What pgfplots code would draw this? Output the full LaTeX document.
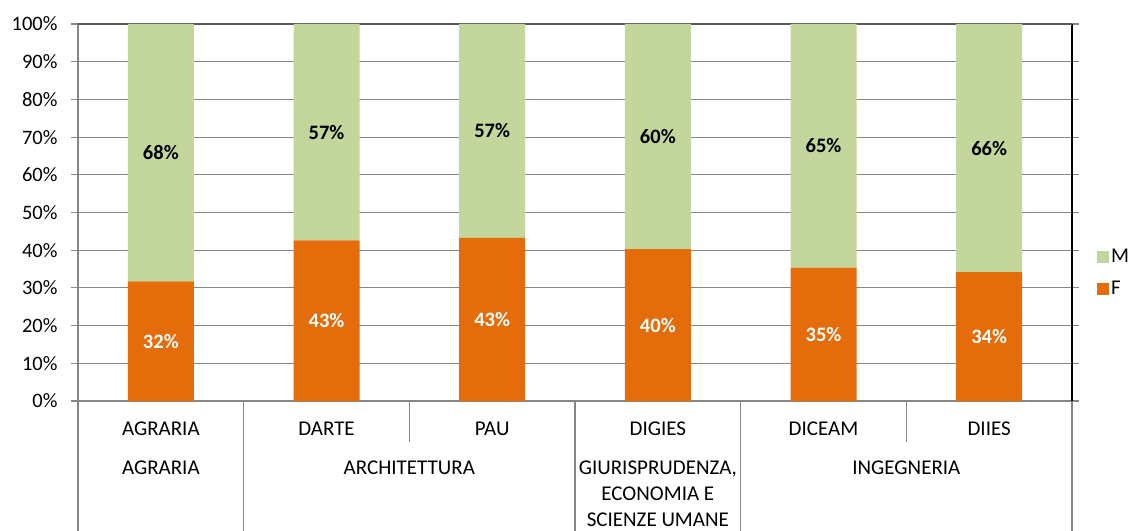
\documentclass[border=0pt]{standalone}
\usepackage{fontspec}
\setmainfont{Carlito}
\usepackage{pgfplots}
\pgfplotsset{compat=1.18}
\usepackage{pgfplotstable}
\definecolor{cM}{HTML}{C3D69B}
\definecolor{cF}{HTML}{E46C0A}
\definecolor{gridc}{HTML}{868686}
\definecolor{topc}{HTML}{595959}

\pgfplotstableread{
x F M
0 31.7 68.3
1 42.6 57.4
2 43.3 56.7
3 40.3 59.7
4 35.4 64.6
5 34.2 65.8
}\data

\pgfplotstableread{
x yF lF yM lM
0 15.85 32 65.85 68
1 21.30 43 71.30 57
2 21.65 43 71.65 57
3 20.15 40 70.15 60
4 17.70 35 67.70 65
5 17.10 34 67.10 66
}\labels

\begin{document}
\begin{tikzpicture}
\useasboundingbox (-78pt,-129pt) rectangle (1061pt,401pt);
\begin{axis}[
  scale only axis, width=994pt, height=377pt,
  xmin=-0.5, xmax=5.5, ymin=0, ymax=100,
  ybar stacked, bar width=66pt,
  xtick={0,...,5},
  xticklabels={AGRARIA,DARTE,PAU,DIGIES,DICEAM,DIIES},
  x tick style={draw=none},
  xticklabel style={font=\fontsize{21}{25}\selectfont, anchor=center, yshift=-21pt},
  ytick={0,10,...,100},
  yticklabel={\pgfmathprintnumber{\tick}\%},
  yticklabel style={font=\fontsize{20.5}{24}\selectfont, xshift=-10pt},
  ymajorgrids, grid style={gridc, line width=1.1pt},
  axis line style={gridc, line width=1.3pt},
  tick align=outside, major tick length=7pt,
  y tick style={gridc, line width=1.1pt},
  clip=false,
  reverse legend,
  legend style={draw=none, fill=none, at={(1,0.34)}, anchor=west, xshift=25pt,
    font=\fontsize{21}{24}\selectfont, row sep=13pt, inner sep=0pt,
    legend cell align=left},
  /pgf/number format/assume math mode=true,
]
\addplot[fill=cF, draw=none, legend image code/.code={\fill[cF] (0pt,-6pt) rectangle (12pt,6pt);}] table[x=x,y=F]{\data};
\addlegendentry{F}
\addplot[fill=cM, draw=none, legend image code/.code={\fill[cM] (0pt,-6pt) rectangle (12pt,6pt);}] table[x=x,y=M]{\data};
\addlegendentry{M}
\draw[topc, line width=1.3pt] (rel axis cs:0,1) -- (rel axis cs:1,1);
\draw[black, line width=1.3pt] (rel axis cs:1,0) -- (rel axis cs:1,1);
\draw[gridc, line width=1.1pt] (axis cs:-0.5,0) -- ++(0pt,-130pt);
\draw[gridc, line width=1.1pt] (axis cs:0.5,0) -- ++(0pt,-130pt);
\draw[gridc, line width=1.1pt] (axis cs:2.5,0) -- ++(0pt,-130pt);
\draw[gridc, line width=1.1pt] (axis cs:3.5,0) -- ++(0pt,-130pt);
\draw[gridc, line width=1.1pt] (axis cs:5.5,0) -- ++(0pt,-130pt);
\draw[gridc, line width=1.1pt] (axis cs:1.5,0) -- ++(0pt,-41pt);
\draw[gridc, line width=1.1pt] (axis cs:4.5,0) -- ++(0pt,-41pt);
\node[anchor=north, inner sep=0pt, align=center, font=\fontsize{21}{25.7}\selectfont] at ([yshift=-60pt]axis cs:0,0) {AGRARIA};
\node[anchor=north, inner sep=0pt, align=center, font=\fontsize{21}{25.7}\selectfont] at ([yshift=-60pt]axis cs:1.5,0) {ARCHITETTURA};
\node[anchor=north, inner sep=0pt, align=center, font=\fontsize{21}{25.7}\selectfont] at ([yshift=-60pt]axis cs:3,0) {GIURISPRUDENZA,\\ECONOMIA E\\SCIENZE UMANE};
\node[anchor=north, inner sep=0pt, align=center, font=\fontsize{21}{25.7}\selectfont] at ([yshift=-60pt]axis cs:4.5,0) {INGEGNERIA};
\end{axis}
\begin{axis}[
  scale only axis, width=994pt, height=377pt,
  xmin=-0.5, xmax=5.5, ymin=0, ymax=100,
  hide axis, clip=false,
  /pgf/number format/assume math mode=true,
]
\addplot[only marks, mark=none, nodes near coords={\pgfmathprintnumber{\pgfplotspointmeta}\%},
  point meta=\thisrow{lF},
  every node near coord/.append style={anchor=center, text=white, font=\bfseries\fontsize{20.5}{24}\selectfont}]
  table[x=x,y=yF]{\labels};
\addplot[only marks, mark=none, nodes near coords={\pgfmathprintnumber{\pgfplotspointmeta}\%},
  point meta=\thisrow{lM},
  every node near coord/.append style={anchor=center, text=black, font=\bfseries\fontsize{20.5}{24}\selectfont}]
  table[x=x,y=yM]{\labels};
\end{axis}
\end{tikzpicture}
\end{document}
